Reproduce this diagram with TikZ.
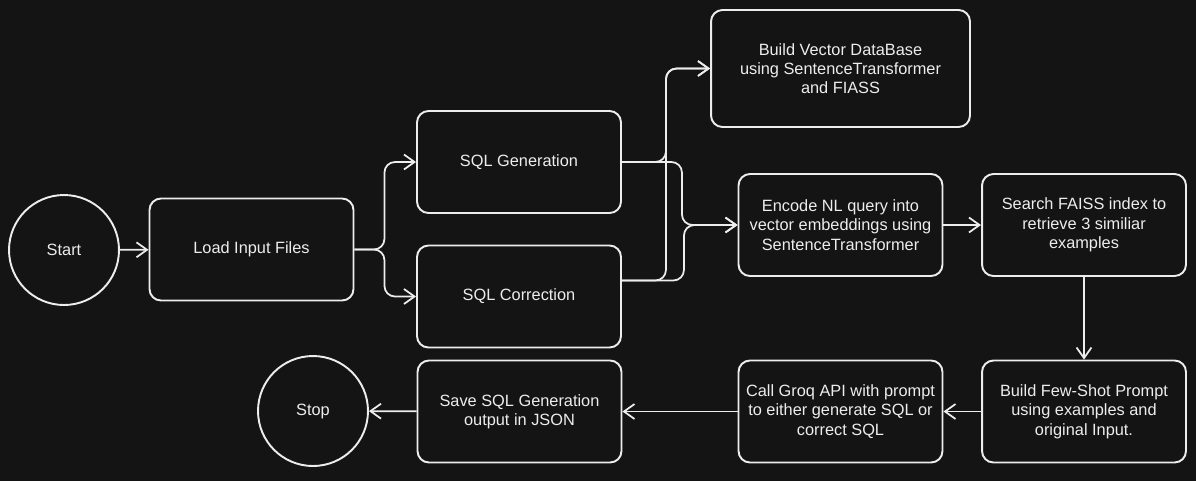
\documentclass[tikz,border=0pt]{standalone}
\usepackage{fontspec}
\setmainfont{Liberation Sans}
\usetikzlibrary{arrows.meta}
\definecolor{bgdark}{HTML}{141414}
\definecolor{fgwhite}{HTML}{EDEDED}
\begin{document}
\begin{tikzpicture}
[x=0.02cm,y=-0.02cm,
  boxdecorate/.style={shape=rectangle,rounded corners=6.5pt,draw=fgwhite,line width=1.1pt,
    fill=bgdark,text=fgwhite,minimum width=4.08cm,minimum height=2.04cm,inner sep=2pt,
    align=center,font=\fontsize{9.3}{11}\selectfont},
  circledecorate/.style={shape=circle,draw=fgwhite,line width=1.1pt,fill=bgdark,
    text=fgwhite,minimum size=2.2cm,font=\fontsize{9.3}{11}\selectfont},
  linedecorate/.style={-{Straight Barb[length=6pt,width=8.5pt]},draw=fgwhite,
    line width=1pt,rounded corners=6pt}]
% background
\fill[bgdark] (0,0) rectangle (1196,481);
\useasboundingbox (0,0) rectangle (1196,481);
%%% nodes
\node (start) at (64,250) [circledecorate] {Start};
\node (load) at (251.5,249.5) [boxdecorate] {Load Input Files};
\node (gen) at (519,162) [boxdecorate] {SQL Generation};
\node (corr) at (519,296.5) [boxdecorate] {SQL Correction};
\node (vdb) at (840.5,68.5) [boxdecorate,minimum width=5.18cm,minimum height=2.34cm]
  {Build Vector DataBase\\using SentenceTransformer\\and FIASS};
\node (enc) at (840.5,225) [boxdecorate]
  {Encode NL query into\\vector embeddings using\\SentenceTransformer};
\node (search) at (1084,225) [boxdecorate]
  {Search FAISS index to\\retrieve 3 similiar\\examples};
\node (few) at (1084,411.5) [boxdecorate]
  {Build Few-Shot Prompt\\using examples and\\original Input.};
\node (groq) at (840.5,411.5) [boxdecorate]
  {Call Groq API with prompt\\to either generate SQL or\\correct SQL};
\node (save) at (519.5,411.5) [boxdecorate]
  {Save SQL Generation\\output in JSON};
\node (stop) at (313,411) [circledecorate] {Stop};
%%% edges
% branching
\draw[linedecorate] (load.east) -- ++(30,0) |- (gen.west);
\draw[linedecorate] (load.east) -- ++(30,0) |- (corr.west);
\draw[linedecorate] (gen.east) -- ++(44,0) |- (vdb.west);
\draw[linedecorate] (gen.east) -- ++(60,0) |- (enc.west);
\draw[linedecorate] ([shift={(0,-16)}]corr.east) -- ++(44,0) |- (vdb.west);
\draw[linedecorate] ([shift={(0,-16)}]corr.east) -- ++(62,0) |- (enc.west);
% straight
\path
(start) edge[linedecorate] (load)
(enc) edge[linedecorate] (search)
(search) edge[linedecorate] (few)
(few) edge[linedecorate] (groq)
(groq) edge[linedecorate] (save)
(save) edge[linedecorate] (stop);
\end{tikzpicture}
\end{document}
